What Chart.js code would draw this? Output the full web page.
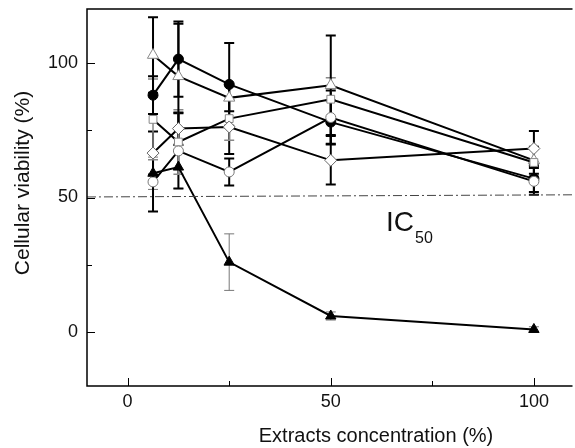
<!DOCTYPE html>
<html>
<head>
<meta charset="utf-8">
<script src="https://cdn.jsdelivr.net/npm/chart.js@4"></script>
<style>
html, body { margin: 0; padding: 0; background: #fff; overflow: hidden; }
/* a few px wider than the window: Chart.js keeps a small right margin we do not want */
#wrap { width: 580px; height: 448px; }
</style>
</head>
<body>
<div id="wrap"><canvas id="viability"></canvas></div>
<script>
// extract concentrations (%)
const conc = [6.25, 12.5, 25, 50, 100];

// viability (%) per extract, and the +/- error of each point
const openTriangle = [102.9, 95, 87, 91.7, 63.8];
const openTriangleErr = [14, 19.5, 5, 18.5, 5];
const filledCircle = [88, 101.4, 92, 78, 57];
const filledCircleErr = [7, 14, 15.4, 8, 5];
const openSquare = [79, 70.6, 79.3, 86.5, 63];
const openSquareErr = [15, 12, 8, 8, 5];
const openDiamond = [66.5, 75.6, 76.2, 63.8, 68.2];
const openDiamondErr = [8, 6, 10, 9, 6.5];
const openCircle = [55.8, 67.3, 59.5, 79.7, 56];
const openCircleErr = [11, 14, 5, 10, 5];
const filledTriangle = [59, 61.3, 26, 6, 1];
const filledTriangleErr = [6, 8, 10.5, 1.5, 1];

// IC50 reference line, from the left end of the axis to the right end
const ic50X = [-10, 109.5];
const ic50Y = [50.2, 51];

const xTicks = [0, 25, 50, 75, 100];
const yTicks = [0, 25, 50, 75, 100];
const labelled = [0, 50, 100];

const FONT = '"Liberation Sans", Arial, sans-serif';

const pts = vals => vals.map((v, i) => ({ x: conc[i], y: v }));

function series(vals, err, style, fill, edge, r, errColor, errWidth) {
    return {
        data: pts(vals),
        err: err,
        errColor: errColor,
        errWidth: errWidth,
        borderColor: '#000',
        borderWidth: 2,
        pointStyle: style,
        pointRadius: r,
        pointBackgroundColor: fill,
        pointBorderColor: edge,
        pointBorderWidth: 1,
        tension: 0
    };
}

const errorBars = {
    id: 'errorBars',
    beforeDatasetsDraw(chart) {
        const ctx = chart.ctx;
        const xs = chart.scales.x, ys = chart.scales.y;
        ctx.save();
        chart.data.datasets.forEach(ds => {
            if (!ds.err) return;
            ctx.strokeStyle = ds.errColor;
            ctx.lineWidth = ds.errWidth;
            ds.data.forEach((p, i) => {
                const x = xs.getPixelForValue(p.x);
                const top = ys.getPixelForValue(p.y + ds.err[i]);
                const bot = ys.getPixelForValue(p.y - ds.err[i]);
                ctx.beginPath();
                ctx.moveTo(x, top); ctx.lineTo(x, bot);
                ctx.moveTo(x - 5, top); ctx.lineTo(x + 5, top);
                ctx.moveTo(x - 5, bot); ctx.lineTo(x + 5, bot);
                ctx.stroke();
            });
        });
        ctx.restore();
    },
    afterDatasetsDraw(chart) {
        const ctx = chart.ctx;
        const a = chart.chartArea;
        const xs = chart.scales.x, ys = chart.scales.y;
        ctx.save();
        ctx.strokeStyle = '#000';
        ctx.lineWidth = 1.5;
        ctx.beginPath();
        ctx.moveTo(a.right, a.top);
        ctx.lineTo(a.left, a.top);
        ctx.lineTo(a.left, a.bottom);
        ctx.lineTo(a.right, a.bottom);
        ctx.stroke();
        ctx.lineWidth = 1;
        ctx.beginPath();
        xTicks.forEach(v => {
            const x = Math.round(xs.getPixelForValue(v)) + 0.5;
            const len = labelled.includes(v) ? 8 : 5;
            ctx.moveTo(x, a.bottom); ctx.lineTo(x, a.bottom - len);
        });
        yTicks.forEach(v => {
            const y = Math.round(ys.getPixelForValue(v)) + 0.5;
            const len = labelled.includes(v) ? 8 : 5;
            ctx.moveTo(a.left, y); ctx.lineTo(a.left + len, y);
        });
        ctx.stroke();

        ctx.fillStyle = '#111';
        // axis titles (sit off-centre in the original)
        ctx.textAlign = 'center';
        ctx.textBaseline = 'alphabetic';
        ctx.font = '20px ' + FONT;
        ctx.fillText('Extracts concentration (%)', 376, 442);
        ctx.save();
        ctx.translate(29, 183);
        ctx.rotate(-Math.PI / 2);
        ctx.font = '21px ' + FONT;
        ctx.fillText('Cellular viability (%)', 0, 0);
        ctx.restore();

        // IC50 label
        ctx.textAlign = 'left';
        ctx.font = '28px ' + FONT;
        ctx.fillText('IC', 386, 231);
        ctx.font = '16px ' + FONT;
        ctx.fillText('50', 415, 243);
        ctx.restore();
    }
};

new Chart(document.getElementById('viability'), {
    type: 'line',
    plugins: [errorBars],
    data: {
        datasets: [
            {
                data: ic50X.map((x, i) => ({ x: x, y: ic50Y[i] })),
                borderColor: '#444',
                borderWidth: 1,
                borderDash: [9, 3, 2, 3],
                pointRadius: 0
            },
            series(filledTriangle, filledTriangleErr, 'triangle', '#000', '#000', 6, '#777', 1),
            series(openCircle, openCircleErr, 'circle', '#fff', '#777', 5, '#000', 2),
            series(openDiamond, openDiamondErr, 'rectRot', '#fff', '#666', 6, '#000', 2),
            series(openSquare, openSquareErr, 'rect', '#fff', '#888', 5.5, '#888', 1.5),
            series(filledCircle, filledCircleErr, 'circle', '#000', '#000', 5, '#000', 2),
            series(openTriangle, openTriangleErr, 'triangle', '#fff', '#888', 6.5, '#000', 2)
        ]
    },
    options: {
        responsive: true,
        maintainAspectRatio: false,
        animation: false,
        devicePixelRatio: 1,
        layout: { padding: { top: 9, right: 0, left: 0, bottom: 0 } },
        plugins: { legend: { display: false }, tooltip: { enabled: false } },
        scales: {
            x: {
                type: 'linear',
                min: -10,
                max: 109.5,
                afterBuildTicks: s => { s.ticks = xTicks.map(v => ({ value: v })); },
                afterFit: s => { s.height = 62; s.paddingLeft = 0; s.paddingRight = 0; },
                grid: { display: false, drawTicks: false },
                border: { display: false },
                ticks: {
                    padding: 5,
                    color: '#111',
                    font: { family: FONT, size: 18 },
                    callback: v => labelled.includes(v) ? String(v) : ''
                }
            },
            y: {
                min: -20,
                max: 120,
                afterBuildTicks: s => { s.ticks = yTicks.map(v => ({ value: v })); },
                afterFit: s => { s.width = 87; s.paddingTop = 0; s.paddingBottom = 0; },
                grid: { display: false, drawTicks: false },
                border: { display: false },
                ticks: {
                    padding: 9,
                    color: '#111',
                    font: { family: FONT, size: 18 },
                    callback: v => labelled.includes(v) ? String(v) : ''
                }
            }
        }
    }
});
</script>
</body>
</html>
